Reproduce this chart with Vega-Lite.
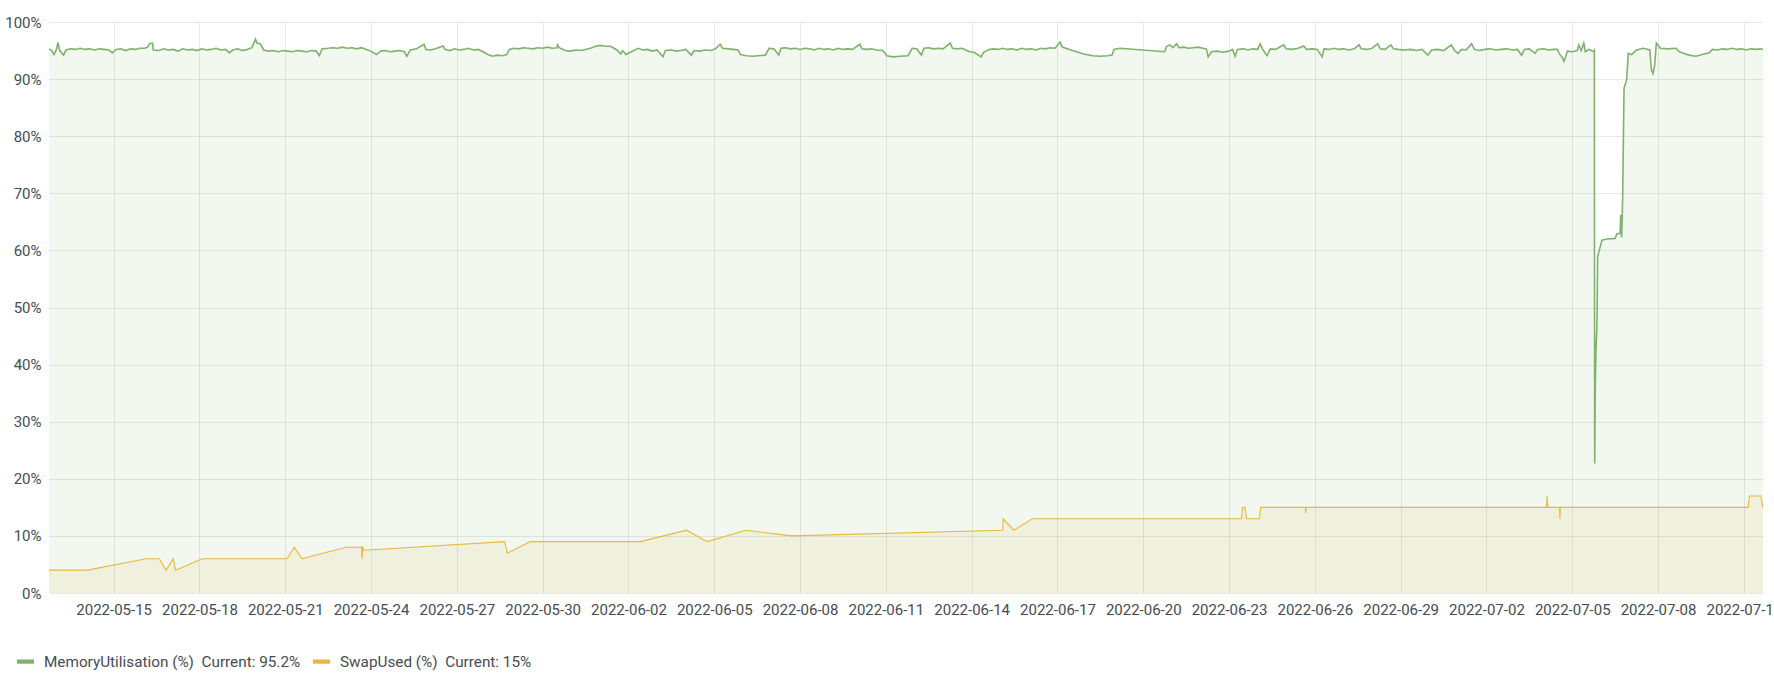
{
"$schema": "https://vega.github.io/schema/vega-lite/v6.json",
"width": 1714,
"height": 571,
"autosize": {"type": "none"},
"padding": {"left": 49, "top": 22, "right": 11, "bottom": 87},
"background": "white",
"config": {"view": {"stroke": null}, "font": "Roboto"},
"data": {"values": [
{"t":"2022-05-12T17:45Z","s":"swap","v":4},
{"t":"2022-05-14T02:00Z","s":"swap","v":4},
{"t":"2022-05-16T03:20Z","s":"swap","v":6},
{"t":"2022-05-16T14:10Z","s":"swap","v":6},
{"t":"2022-05-16T20:00Z","s":"swap","v":4},
{"t":"2022-05-17T02:00Z","s":"swap","v":6},
{"t":"2022-05-17T04:00Z","s":"swap","v":4},
{"t":"2022-05-18T02:20Z","s":"swap","v":6},
{"t":"2022-05-21T01:30Z","s":"swap","v":6},
{"t":"2022-05-21T07:30Z","s":"swap","v":8},
{"t":"2022-05-21T14:10Z","s":"swap","v":6},
{"t":"2022-05-23T03:00Z","s":"swap","v":8},
{"t":"2022-05-23T16:00Z","s":"swap","v":8},
{"t":"2022-05-23T16:30Z","s":"swap","v":6},
{"t":"2022-05-23T17:00Z","s":"swap","v":8},
{"t":"2022-05-23T18:30Z","s":"swap","v":7.5},
{"t":"2022-05-28T16:00Z","s":"swap","v":9},
{"t":"2022-05-28T18:30Z","s":"swap","v":7},
{"t":"2022-05-29T13:30Z","s":"swap","v":9},
{"t":"2022-06-02T10:00Z","s":"swap","v":9},
{"t":"2022-06-04T00:45Z","s":"swap","v":11},
{"t":"2022-06-04T18:00Z","s":"swap","v":9},
{"t":"2022-06-06T02:40Z","s":"swap","v":11},
{"t":"2022-06-07T16:50Z","s":"swap","v":10},
{"t":"2022-06-15T02:00Z","s":"swap","v":11},
{"t":"2022-06-15T02:30Z","s":"swap","v":13},
{"t":"2022-06-15T11:20Z","s":"swap","v":11},
{"t":"2022-06-16T03:00Z","s":"swap","v":13},
{"t":"2022-06-23T10:30Z","s":"swap","v":13},
{"t":"2022-06-23T11:10Z","s":"swap","v":15},
{"t":"2022-06-23T13:20Z","s":"swap","v":15},
{"t":"2022-06-23T14:40Z","s":"swap","v":13},
{"t":"2022-06-24T01:30Z","s":"swap","v":13},
{"t":"2022-06-24T02:30Z","s":"swap","v":15},
{"t":"2022-06-25T16:00Z","s":"swap","v":15},
{"t":"2022-06-25T16:20Z","s":"swap","v":14},
{"t":"2022-06-25T16:40Z","s":"swap","v":15},
{"t":"2022-07-04T02:30Z","s":"swap","v":15},
{"t":"2022-07-04T02:50Z","s":"swap","v":17},
{"t":"2022-07-04T03:30Z","s":"swap","v":15},
{"t":"2022-07-04T13:20Z","s":"swap","v":15},
{"t":"2022-07-04T13:40Z","s":"swap","v":13},
{"t":"2022-07-04T14:00Z","s":"swap","v":15},
{"t":"2022-07-11T03:40Z","s":"swap","v":15},
{"t":"2022-07-11T04:40Z","s":"swap","v":17},
{"t":"2022-07-11T14:10Z","s":"swap","v":17},
{"t":"2022-07-11T16:05Z","s":"swap","v":15},
{"t":"2022-05-12T17:45Z","s":"mem","v":95.3},
{"t":"2022-05-12T20:00Z","s":"mem","v":95.0},
{"t":"2022-05-12T22:00Z","s":"mem","v":94.3},
{"t":"2022-05-13T00:00Z","s":"mem","v":95.2},
{"t":"2022-05-13T01:10Z","s":"mem","v":96.4},
{"t":"2022-05-13T02:45Z","s":"mem","v":95.0},
{"t":"2022-05-13T06:00Z","s":"mem","v":94.2},
{"t":"2022-05-13T08:00Z","s":"mem","v":95.1},
{"t":"2022-05-13T12:00Z","s":"mem","v":95.3},
{"t":"2022-05-13T16:00Z","s":"mem","v":95.2},
{"t":"2022-05-13T20:00Z","s":"mem","v":95.4},
{"t":"2022-05-14T00:00Z","s":"mem","v":95.2},
{"t":"2022-05-14T04:00Z","s":"mem","v":95.3},
{"t":"2022-05-14T08:00Z","s":"mem","v":95.1},
{"t":"2022-05-14T12:00Z","s":"mem","v":95.3},
{"t":"2022-05-14T16:00Z","s":"mem","v":95.2},
{"t":"2022-05-14T20:00Z","s":"mem","v":95.1},
{"t":"2022-05-14T22:50Z","s":"mem","v":94.6},
{"t":"2022-05-15T02:00Z","s":"mem","v":95.2},
{"t":"2022-05-15T06:00Z","s":"mem","v":95.3},
{"t":"2022-05-15T10:00Z","s":"mem","v":95.0},
{"t":"2022-05-15T14:00Z","s":"mem","v":95.3},
{"t":"2022-05-15T18:00Z","s":"mem","v":95.2},
{"t":"2022-05-15T22:00Z","s":"mem","v":95.4},
{"t":"2022-05-16T02:00Z","s":"mem","v":95.4},
{"t":"2022-05-16T04:30Z","s":"mem","v":95.6},
{"t":"2022-05-16T06:00Z","s":"mem","v":96.2},
{"t":"2022-05-16T08:40Z","s":"mem","v":96.3},
{"t":"2022-05-16T09:20Z","s":"mem","v":95.1},
{"t":"2022-05-16T14:00Z","s":"mem","v":95.0},
{"t":"2022-05-16T18:00Z","s":"mem","v":95.3},
{"t":"2022-05-16T22:00Z","s":"mem","v":95.1},
{"t":"2022-05-17T02:00Z","s":"mem","v":95.2},
{"t":"2022-05-17T06:00Z","s":"mem","v":94.9},
{"t":"2022-05-17T10:00Z","s":"mem","v":95.3},
{"t":"2022-05-17T14:00Z","s":"mem","v":95.1},
{"t":"2022-05-17T18:00Z","s":"mem","v":95.2},
{"t":"2022-05-17T22:00Z","s":"mem","v":95.0},
{"t":"2022-05-18T02:00Z","s":"mem","v":95.3},
{"t":"2022-05-18T06:00Z","s":"mem","v":95.1},
{"t":"2022-05-18T10:00Z","s":"mem","v":95.2},
{"t":"2022-05-18T14:00Z","s":"mem","v":95.4},
{"t":"2022-05-18T18:00Z","s":"mem","v":95.1},
{"t":"2022-05-18T22:00Z","s":"mem","v":95.2},
{"t":"2022-05-19T01:10Z","s":"mem","v":94.6},
{"t":"2022-05-19T04:00Z","s":"mem","v":95.1},
{"t":"2022-05-19T08:00Z","s":"mem","v":95.3},
{"t":"2022-05-19T12:00Z","s":"mem","v":95.0},
{"t":"2022-05-19T16:00Z","s":"mem","v":95.2},
{"t":"2022-05-19T20:00Z","s":"mem","v":95.5},
{"t":"2022-05-19T23:00Z","s":"mem","v":97.0},
{"t":"2022-05-20T00:15Z","s":"mem","v":96.3},
{"t":"2022-05-20T03:00Z","s":"mem","v":96.2},
{"t":"2022-05-20T06:00Z","s":"mem","v":95.1},
{"t":"2022-05-20T10:00Z","s":"mem","v":94.9},
{"t":"2022-05-20T14:00Z","s":"mem","v":95.0},
{"t":"2022-05-20T18:00Z","s":"mem","v":94.8},
{"t":"2022-05-20T22:00Z","s":"mem","v":95.0},
{"t":"2022-05-21T02:00Z","s":"mem","v":94.9},
{"t":"2022-05-21T06:00Z","s":"mem","v":94.8},
{"t":"2022-05-21T10:00Z","s":"mem","v":95.0},
{"t":"2022-05-21T14:00Z","s":"mem","v":94.9},
{"t":"2022-05-21T18:00Z","s":"mem","v":94.8},
{"t":"2022-05-21T22:00Z","s":"mem","v":95.0},
{"t":"2022-05-22T02:00Z","s":"mem","v":94.9},
{"t":"2022-05-22T04:30Z","s":"mem","v":94.1},
{"t":"2022-05-22T07:00Z","s":"mem","v":95.3},
{"t":"2022-05-22T12:00Z","s":"mem","v":95.4},
{"t":"2022-05-22T16:00Z","s":"mem","v":95.5},
{"t":"2022-05-22T20:00Z","s":"mem","v":95.4},
{"t":"2022-05-23T00:00Z","s":"mem","v":95.6},
{"t":"2022-05-23T04:00Z","s":"mem","v":95.4},
{"t":"2022-05-23T08:00Z","s":"mem","v":95.5},
{"t":"2022-05-23T12:00Z","s":"mem","v":95.3},
{"t":"2022-05-23T16:00Z","s":"mem","v":95.5},
{"t":"2022-05-23T20:00Z","s":"mem","v":95.2},
{"t":"2022-05-24T00:00Z","s":"mem","v":94.9},
{"t":"2022-05-24T04:30Z","s":"mem","v":94.3},
{"t":"2022-05-24T08:00Z","s":"mem","v":94.9},
{"t":"2022-05-24T12:00Z","s":"mem","v":95.0},
{"t":"2022-05-24T16:00Z","s":"mem","v":94.8},
{"t":"2022-05-24T20:00Z","s":"mem","v":94.9},
{"t":"2022-05-25T00:00Z","s":"mem","v":95.0},
{"t":"2022-05-25T04:00Z","s":"mem","v":94.8},
{"t":"2022-05-25T06:00Z","s":"mem","v":94.0},
{"t":"2022-05-25T09:00Z","s":"mem","v":95.1},
{"t":"2022-05-25T14:00Z","s":"mem","v":95.3},
{"t":"2022-05-25T20:30Z","s":"mem","v":96.1},
{"t":"2022-05-25T22:00Z","s":"mem","v":95.2},
{"t":"2022-05-26T02:00Z","s":"mem","v":95.1},
{"t":"2022-05-26T06:00Z","s":"mem","v":95.3},
{"t":"2022-05-26T12:30Z","s":"mem","v":95.8},
{"t":"2022-05-26T14:00Z","s":"mem","v":95.2},
{"t":"2022-05-26T18:00Z","s":"mem","v":95.0},
{"t":"2022-05-26T22:00Z","s":"mem","v":95.3},
{"t":"2022-05-27T02:00Z","s":"mem","v":95.1},
{"t":"2022-05-27T06:00Z","s":"mem","v":95.2},
{"t":"2022-05-27T10:00Z","s":"mem","v":95.4},
{"t":"2022-05-27T14:00Z","s":"mem","v":95.1},
{"t":"2022-05-27T18:00Z","s":"mem","v":95.2},
{"t":"2022-05-27T22:00Z","s":"mem","v":94.8},
{"t":"2022-05-28T02:00Z","s":"mem","v":94.3},
{"t":"2022-05-28T06:00Z","s":"mem","v":94.0},
{"t":"2022-05-28T10:00Z","s":"mem","v":94.2},
{"t":"2022-05-28T14:00Z","s":"mem","v":94.1},
{"t":"2022-05-28T18:00Z","s":"mem","v":94.3},
{"t":"2022-05-28T20:00Z","s":"mem","v":95.2},
{"t":"2022-05-29T00:00Z","s":"mem","v":95.4},
{"t":"2022-05-29T04:00Z","s":"mem","v":95.3},
{"t":"2022-05-29T08:00Z","s":"mem","v":95.5},
{"t":"2022-05-29T12:00Z","s":"mem","v":95.4},
{"t":"2022-05-29T16:00Z","s":"mem","v":95.3},
{"t":"2022-05-29T20:00Z","s":"mem","v":95.5},
{"t":"2022-05-30T00:00Z","s":"mem","v":95.4},
{"t":"2022-05-30T04:00Z","s":"mem","v":95.6},
{"t":"2022-05-30T08:00Z","s":"mem","v":95.4},
{"t":"2022-05-30T12:00Z","s":"mem","v":95.5},
{"t":"2022-05-30T12:30Z","s":"mem","v":96.0},
{"t":"2022-05-30T14:00Z","s":"mem","v":95.5},
{"t":"2022-05-30T19:00Z","s":"mem","v":95.0},
{"t":"2022-05-30T23:00Z","s":"mem","v":94.9},
{"t":"2022-05-31T04:00Z","s":"mem","v":95.1},
{"t":"2022-05-31T08:00Z","s":"mem","v":95.0},
{"t":"2022-05-31T12:00Z","s":"mem","v":95.2},
{"t":"2022-05-31T16:00Z","s":"mem","v":95.4},
{"t":"2022-05-31T20:00Z","s":"mem","v":95.7},
{"t":"2022-06-01T00:00Z","s":"mem","v":95.9},
{"t":"2022-06-01T04:00Z","s":"mem","v":95.8},
{"t":"2022-06-01T09:30Z","s":"mem","v":95.7},
{"t":"2022-06-01T14:20Z","s":"mem","v":95.1},
{"t":"2022-06-01T17:30Z","s":"mem","v":94.4},
{"t":"2022-06-01T19:10Z","s":"mem","v":95.0},
{"t":"2022-06-01T21:50Z","s":"mem","v":94.3},
{"t":"2022-06-02T08:10Z","s":"mem","v":95.4},
{"t":"2022-06-02T12:00Z","s":"mem","v":95.1},
{"t":"2022-06-02T16:00Z","s":"mem","v":95.2},
{"t":"2022-06-02T20:00Z","s":"mem","v":94.9},
{"t":"2022-06-03T00:00Z","s":"mem","v":95.1},
{"t":"2022-06-03T05:00Z","s":"mem","v":93.9},
{"t":"2022-06-03T07:00Z","s":"mem","v":95.0},
{"t":"2022-06-03T12:00Z","s":"mem","v":95.1},
{"t":"2022-06-03T16:00Z","s":"mem","v":94.9},
{"t":"2022-06-03T20:00Z","s":"mem","v":95.0},
{"t":"2022-06-04T00:00Z","s":"mem","v":95.2},
{"t":"2022-06-04T04:50Z","s":"mem","v":94.2},
{"t":"2022-06-04T07:00Z","s":"mem","v":95.0},
{"t":"2022-06-04T12:00Z","s":"mem","v":94.9},
{"t":"2022-06-04T16:00Z","s":"mem","v":95.1},
{"t":"2022-06-04T21:00Z","s":"mem","v":95.0},
{"t":"2022-06-05T01:00Z","s":"mem","v":95.3},
{"t":"2022-06-05T05:00Z","s":"mem","v":96.1},
{"t":"2022-06-05T07:00Z","s":"mem","v":95.4},
{"t":"2022-06-05T12:00Z","s":"mem","v":95.3},
{"t":"2022-06-05T16:00Z","s":"mem","v":95.2},
{"t":"2022-06-05T20:00Z","s":"mem","v":95.1},
{"t":"2022-06-05T22:00Z","s":"mem","v":94.3},
{"t":"2022-06-06T03:00Z","s":"mem","v":94.1},
{"t":"2022-06-06T08:00Z","s":"mem","v":94.0},
{"t":"2022-06-06T13:00Z","s":"mem","v":94.1},
{"t":"2022-06-06T18:50Z","s":"mem","v":94.2},
{"t":"2022-06-06T22:00Z","s":"mem","v":95.4},
{"t":"2022-06-07T02:00Z","s":"mem","v":95.3},
{"t":"2022-06-07T06:10Z","s":"mem","v":94.2},
{"t":"2022-06-07T08:00Z","s":"mem","v":95.4},
{"t":"2022-06-07T12:00Z","s":"mem","v":95.5},
{"t":"2022-06-07T16:00Z","s":"mem","v":95.3},
{"t":"2022-06-07T20:00Z","s":"mem","v":95.4},
{"t":"2022-06-08T00:00Z","s":"mem","v":95.2},
{"t":"2022-06-08T04:00Z","s":"mem","v":95.4},
{"t":"2022-06-08T08:00Z","s":"mem","v":95.3},
{"t":"2022-06-08T12:00Z","s":"mem","v":95.1},
{"t":"2022-06-08T16:00Z","s":"mem","v":95.4},
{"t":"2022-06-08T20:00Z","s":"mem","v":95.2},
{"t":"2022-06-09T00:00Z","s":"mem","v":95.3},
{"t":"2022-06-09T04:00Z","s":"mem","v":95.1},
{"t":"2022-06-09T08:00Z","s":"mem","v":95.4},
{"t":"2022-06-09T12:00Z","s":"mem","v":95.2},
{"t":"2022-06-09T16:00Z","s":"mem","v":95.3},
{"t":"2022-06-09T20:00Z","s":"mem","v":95.2},
{"t":"2022-06-10T02:10Z","s":"mem","v":96.1},
{"t":"2022-06-10T04:00Z","s":"mem","v":95.3},
{"t":"2022-06-10T08:00Z","s":"mem","v":95.2},
{"t":"2022-06-10T12:00Z","s":"mem","v":95.3},
{"t":"2022-06-10T16:00Z","s":"mem","v":95.1},
{"t":"2022-06-10T21:30Z","s":"mem","v":95.0},
{"t":"2022-06-11T01:00Z","s":"mem","v":94.1},
{"t":"2022-06-11T06:00Z","s":"mem","v":93.9},
{"t":"2022-06-11T12:00Z","s":"mem","v":94.0},
{"t":"2022-06-11T18:40Z","s":"mem","v":94.1},
{"t":"2022-06-11T22:00Z","s":"mem","v":95.4},
{"t":"2022-06-12T02:00Z","s":"mem","v":95.3},
{"t":"2022-06-12T05:50Z","s":"mem","v":94.2},
{"t":"2022-06-12T08:00Z","s":"mem","v":95.4},
{"t":"2022-06-12T12:00Z","s":"mem","v":95.5},
{"t":"2022-06-12T16:00Z","s":"mem","v":95.3},
{"t":"2022-06-12T20:00Z","s":"mem","v":95.4},
{"t":"2022-06-13T00:00Z","s":"mem","v":95.3},
{"t":"2022-06-13T06:00Z","s":"mem","v":96.3},
{"t":"2022-06-13T08:00Z","s":"mem","v":95.4},
{"t":"2022-06-13T12:00Z","s":"mem","v":95.3},
{"t":"2022-06-13T16:00Z","s":"mem","v":95.4},
{"t":"2022-06-13T22:20Z","s":"mem","v":94.8},
{"t":"2022-06-14T02:00Z","s":"mem","v":94.7},
{"t":"2022-06-14T08:00Z","s":"mem","v":93.9},
{"t":"2022-06-14T10:00Z","s":"mem","v":94.7},
{"t":"2022-06-14T14:40Z","s":"mem","v":95.2},
{"t":"2022-06-14T18:00Z","s":"mem","v":95.3},
{"t":"2022-06-14T22:00Z","s":"mem","v":95.2},
{"t":"2022-06-15T02:00Z","s":"mem","v":95.4},
{"t":"2022-06-15T06:00Z","s":"mem","v":95.2},
{"t":"2022-06-15T10:00Z","s":"mem","v":95.3},
{"t":"2022-06-15T14:00Z","s":"mem","v":95.1},
{"t":"2022-06-15T18:00Z","s":"mem","v":95.4},
{"t":"2022-06-15T22:00Z","s":"mem","v":95.2},
{"t":"2022-06-16T02:00Z","s":"mem","v":95.3},
{"t":"2022-06-16T06:00Z","s":"mem","v":95.1},
{"t":"2022-06-16T10:00Z","s":"mem","v":95.4},
{"t":"2022-06-16T14:00Z","s":"mem","v":95.3},
{"t":"2022-06-16T18:00Z","s":"mem","v":95.5},
{"t":"2022-06-16T22:00Z","s":"mem","v":95.4},
{"t":"2022-06-17T02:10Z","s":"mem","v":96.5},
{"t":"2022-06-17T04:00Z","s":"mem","v":95.6},
{"t":"2022-06-17T10:00Z","s":"mem","v":95.2},
{"t":"2022-06-17T16:00Z","s":"mem","v":94.8},
{"t":"2022-06-17T22:00Z","s":"mem","v":94.4},
{"t":"2022-06-18T05:40Z","s":"mem","v":94.1},
{"t":"2022-06-18T12:00Z","s":"mem","v":94.0},
{"t":"2022-06-18T18:00Z","s":"mem","v":94.1},
{"t":"2022-06-18T21:50Z","s":"mem","v":94.2},
{"t":"2022-06-18T23:30Z","s":"mem","v":95.2},
{"t":"2022-06-19T04:20Z","s":"mem","v":95.4},
{"t":"2022-06-20T18:00Z","s":"mem","v":94.8},
{"t":"2022-06-20T19:30Z","s":"mem","v":95.7},
{"t":"2022-06-20T22:10Z","s":"mem","v":96.0},
{"t":"2022-06-21T01:00Z","s":"mem","v":95.5},
{"t":"2022-06-21T04:00Z","s":"mem","v":96.2},
{"t":"2022-06-21T06:00Z","s":"mem","v":95.5},
{"t":"2022-06-21T10:00Z","s":"mem","v":95.6},
{"t":"2022-06-21T14:00Z","s":"mem","v":95.4},
{"t":"2022-06-21T18:00Z","s":"mem","v":95.5},
{"t":"2022-06-21T22:00Z","s":"mem","v":95.6},
{"t":"2022-06-22T02:00Z","s":"mem","v":95.4},
{"t":"2022-06-22T05:00Z","s":"mem","v":95.3},
{"t":"2022-06-22T06:30Z","s":"mem","v":93.9},
{"t":"2022-06-22T09:20Z","s":"mem","v":94.8},
{"t":"2022-06-22T14:00Z","s":"mem","v":94.9},
{"t":"2022-06-22T19:00Z","s":"mem","v":94.7},
{"t":"2022-06-23T00:00Z","s":"mem","v":94.9},
{"t":"2022-06-23T03:00Z","s":"mem","v":95.2},
{"t":"2022-06-23T05:00Z","s":"mem","v":94.0},
{"t":"2022-06-23T07:00Z","s":"mem","v":95.2},
{"t":"2022-06-23T12:00Z","s":"mem","v":95.3},
{"t":"2022-06-23T16:00Z","s":"mem","v":95.1},
{"t":"2022-06-23T20:00Z","s":"mem","v":95.3},
{"t":"2022-06-24T00:00Z","s":"mem","v":95.2},
{"t":"2022-06-24T02:10Z","s":"mem","v":96.2},
{"t":"2022-06-24T04:00Z","s":"mem","v":95.3},
{"t":"2022-06-24T07:50Z","s":"mem","v":94.1},
{"t":"2022-06-24T10:40Z","s":"mem","v":95.3},
{"t":"2022-06-24T15:00Z","s":"mem","v":95.2},
{"t":"2022-06-24T21:50Z","s":"mem","v":96.0},
{"t":"2022-06-25T00:00Z","s":"mem","v":95.3},
{"t":"2022-06-25T05:00Z","s":"mem","v":95.2},
{"t":"2022-06-25T10:00Z","s":"mem","v":95.4},
{"t":"2022-06-25T14:40Z","s":"mem","v":95.8},
{"t":"2022-06-25T17:00Z","s":"mem","v":95.2},
{"t":"2022-06-25T22:00Z","s":"mem","v":95.3},
{"t":"2022-06-26T02:00Z","s":"mem","v":95.2},
{"t":"2022-06-26T06:10Z","s":"mem","v":93.9},
{"t":"2022-06-26T07:40Z","s":"mem","v":95.3},
{"t":"2022-06-26T12:00Z","s":"mem","v":95.2},
{"t":"2022-06-26T16:00Z","s":"mem","v":95.4},
{"t":"2022-06-26T20:00Z","s":"mem","v":95.2},
{"t":"2022-06-27T00:00Z","s":"mem","v":95.3},
{"t":"2022-06-27T05:00Z","s":"mem","v":95.1},
{"t":"2022-06-27T09:00Z","s":"mem","v":95.3},
{"t":"2022-06-27T13:10Z","s":"mem","v":96.0},
{"t":"2022-06-27T15:00Z","s":"mem","v":95.3},
{"t":"2022-06-27T20:00Z","s":"mem","v":95.2},
{"t":"2022-06-28T00:00Z","s":"mem","v":95.4},
{"t":"2022-06-28T04:40Z","s":"mem","v":96.2},
{"t":"2022-06-28T07:00Z","s":"mem","v":95.3},
{"t":"2022-06-28T11:00Z","s":"mem","v":95.2},
{"t":"2022-06-28T15:50Z","s":"mem","v":96.0},
{"t":"2022-06-28T18:00Z","s":"mem","v":95.3},
{"t":"2022-06-28T22:00Z","s":"mem","v":95.2},
{"t":"2022-06-29T03:00Z","s":"mem","v":95.1},
{"t":"2022-06-29T08:00Z","s":"mem","v":95.2},
{"t":"2022-06-29T13:00Z","s":"mem","v":95.0},
{"t":"2022-06-29T18:00Z","s":"mem","v":95.2},
{"t":"2022-06-29T22:50Z","s":"mem","v":94.2},
{"t":"2022-06-30T02:00Z","s":"mem","v":95.1},
{"t":"2022-06-30T07:00Z","s":"mem","v":95.2},
{"t":"2022-06-30T12:00Z","s":"mem","v":95.0},
{"t":"2022-06-30T18:30Z","s":"mem","v":96.0},
{"t":"2022-06-30T21:00Z","s":"mem","v":95.1},
{"t":"2022-07-01T00:10Z","s":"mem","v":94.5},
{"t":"2022-07-01T03:00Z","s":"mem","v":95.2},
{"t":"2022-07-01T07:00Z","s":"mem","v":95.1},
{"t":"2022-07-01T11:30Z","s":"mem","v":96.2},
{"t":"2022-07-01T14:00Z","s":"mem","v":95.2},
{"t":"2022-07-01T18:00Z","s":"mem","v":95.0},
{"t":"2022-07-01T22:40Z","s":"mem","v":95.2},
{"t":"2022-07-02T03:00Z","s":"mem","v":95.3},
{"t":"2022-07-02T08:00Z","s":"mem","v":95.1},
{"t":"2022-07-02T12:30Z","s":"mem","v":95.2},
{"t":"2022-07-02T17:00Z","s":"mem","v":95.3},
{"t":"2022-07-02T22:00Z","s":"mem","v":95.1},
{"t":"2022-07-03T02:00Z","s":"mem","v":95.2},
{"t":"2022-07-03T05:30Z","s":"mem","v":94.2},
{"t":"2022-07-03T08:00Z","s":"mem","v":95.2},
{"t":"2022-07-03T12:00Z","s":"mem","v":95.3},
{"t":"2022-07-03T16:50Z","s":"mem","v":94.5},
{"t":"2022-07-03T19:00Z","s":"mem","v":95.2},
{"t":"2022-07-04T00:00Z","s":"mem","v":95.3},
{"t":"2022-07-04T04:00Z","s":"mem","v":95.1},
{"t":"2022-07-04T08:00Z","s":"mem","v":95.2},
{"t":"2022-07-04T11:30Z","s":"mem","v":95.2},
{"t":"2022-07-04T13:00Z","s":"mem","v":94.5},
{"t":"2022-07-04T15:40Z","s":"mem","v":93.8},
{"t":"2022-07-04T17:00Z","s":"mem","v":93.1},
{"t":"2022-07-04T18:30Z","s":"mem","v":93.9},
{"t":"2022-07-04T19:50Z","s":"mem","v":94.9},
{"t":"2022-07-05T00:00Z","s":"mem","v":94.8},
{"t":"2022-07-05T04:10Z","s":"mem","v":95.0},
{"t":"2022-07-05T05:30Z","s":"mem","v":96.0},
{"t":"2022-07-05T07:30Z","s":"mem","v":95.0},
{"t":"2022-07-05T09:40Z","s":"mem","v":96.3},
{"t":"2022-07-05T11:00Z","s":"mem","v":94.8},
{"t":"2022-07-05T14:00Z","s":"mem","v":95.2},
{"t":"2022-07-05T18:00Z","s":"mem","v":94.8},
{"t":"2022-07-05T18:33Z","s":"mem","v":95.0},
{"t":"2022-07-05T18:50Z","s":"mem","v":22.7},
{"t":"2022-07-05T19:22Z","s":"mem","v":36.8},
{"t":"2022-07-05T19:55Z","s":"mem","v":42.5},
{"t":"2022-07-05T20:46Z","s":"mem","v":47.3},
{"t":"2022-07-05T21:19Z","s":"mem","v":58.9},
{"t":"2022-07-06T00:55Z","s":"mem","v":61.8},
{"t":"2022-07-06T05:04Z","s":"mem","v":62.0},
{"t":"2022-07-06T12:00Z","s":"mem","v":62.1},
{"t":"2022-07-06T13:22Z","s":"mem","v":62.9},
{"t":"2022-07-06T16:08Z","s":"mem","v":63.0},
{"t":"2022-07-06T16:42Z","s":"mem","v":66.2},
{"t":"2022-07-06T17:31Z","s":"mem","v":62.3},
{"t":"2022-07-06T18:22Z","s":"mem","v":70.0},
{"t":"2022-07-06T19:28Z","s":"mem","v":88.4},
{"t":"2022-07-06T21:40Z","s":"mem","v":89.9},
{"t":"2022-07-06T23:03Z","s":"mem","v":94.5},
{"t":"2022-07-07T01:49Z","s":"mem","v":94.3},
{"t":"2022-07-07T05:59Z","s":"mem","v":95.1},
{"t":"2022-07-07T11:31Z","s":"mem","v":95.4},
{"t":"2022-07-07T17:04Z","s":"mem","v":95.1},
{"t":"2022-07-07T18:26Z","s":"mem","v":91.6},
{"t":"2022-07-07T19:49Z","s":"mem","v":91.0},
{"t":"2022-07-07T21:13Z","s":"mem","v":92.5},
{"t":"2022-07-07T22:35Z","s":"mem","v":96.3},
{"t":"2022-07-08T02:00Z","s":"mem","v":95.4},
{"t":"2022-07-08T08:00Z","s":"mem","v":95.3},
{"t":"2022-07-08T15:11Z","s":"mem","v":95.4},
{"t":"2022-07-08T17:58Z","s":"mem","v":94.8},
{"t":"2022-07-08T22:00Z","s":"mem","v":94.5},
{"t":"2022-07-09T02:00Z","s":"mem","v":94.2},
{"t":"2022-07-09T07:48Z","s":"mem","v":94.0},
{"t":"2022-07-09T13:00Z","s":"mem","v":94.3},
{"t":"2022-07-09T18:53Z","s":"mem","v":94.6},
{"t":"2022-07-09T21:39Z","s":"mem","v":95.2},
{"t":"2022-07-10T02:00Z","s":"mem","v":95.1},
{"t":"2022-07-10T06:00Z","s":"mem","v":95.3},
{"t":"2022-07-10T10:00Z","s":"mem","v":95.2},
{"t":"2022-07-10T14:00Z","s":"mem","v":95.4},
{"t":"2022-07-10T18:00Z","s":"mem","v":95.2},
{"t":"2022-07-10T22:00Z","s":"mem","v":95.3},
{"t":"2022-07-11T02:00Z","s":"mem","v":95.1},
{"t":"2022-07-11T06:00Z","s":"mem","v":95.3},
{"t":"2022-07-11T10:00Z","s":"mem","v":95.2},
{"t":"2022-07-11T14:00Z","s":"mem","v":95.3},
{"t":"2022-07-11T16:05Z","s":"mem","v":95.2}
]},
"encoding": {
  "x": {"field": "t", "type": "temporal",
    "scale": {"type": "utc", "domain": [
      {"year": 2022, "month": "May", "date": 12, "hours": 17, "minutes": 45, "utc": true},
      {"year": 2022, "month": "July", "date": 11, "hours": 16, "minutes": 5, "utc": true}]},
    "axis": {"title": null,
      "labelExpr": "utcFormat(datum.value, '%Y-%m-%d')",
      "values": [
        {"year": 2022, "month": "May", "date": 15, "utc": true},
        {"year": 2022, "month": "May", "date": 18, "utc": true},
        {"year": 2022, "month": "May", "date": 21, "utc": true},
        {"year": 2022, "month": "May", "date": 24, "utc": true},
        {"year": 2022, "month": "May", "date": 27, "utc": true},
        {"year": 2022, "month": "May", "date": 30, "utc": true},
        {"year": 2022, "month": "June", "date": 2, "utc": true},
        {"year": 2022, "month": "June", "date": 5, "utc": true},
        {"year": 2022, "month": "June", "date": 8, "utc": true},
        {"year": 2022, "month": "June", "date": 11, "utc": true},
        {"year": 2022, "month": "June", "date": 14, "utc": true},
        {"year": 2022, "month": "June", "date": 17, "utc": true},
        {"year": 2022, "month": "June", "date": 20, "utc": true},
        {"year": 2022, "month": "June", "date": 23, "utc": true},
        {"year": 2022, "month": "June", "date": 26, "utc": true},
        {"year": 2022, "month": "June", "date": 29, "utc": true},
        {"year": 2022, "month": "July", "date": 2, "utc": true},
        {"year": 2022, "month": "July", "date": 5, "utc": true},
        {"year": 2022, "month": "July", "date": 8, "utc": true},
        {"year": 2022, "month": "July", "date": 11, "utc": true}],
      "labelOverlap": false, "labelBound": false, "labelFlush": false,
      "ticks": false, "domain": false, "labelPadding": 9,
      "labelFont": "Roboto", "labelFontSize": 15, "labelColor": "#464c54",
      "gridColor": "#000000", "gridOpacity": 0.09}},
  "y": {"field": "v", "type": "quantitative", "stack": null,
    "scale": {"domain": [0, 100], "nice": false},
    "axis": {"title": null, "values": [0,10,20,30,40,50,60,70,80,90,100],
      "labelExpr": "datum.value + '%'", "ticks": false, "domain": false,
      "labelPadding": 8, "labelFont": "Roboto", "labelFontSize": 15, "labelColor": "#464c54",
      "gridColor": "#000000", "gridOpacity": 0.09}},
  "color": {"field": "s", "type": "nominal",
    "scale": {"domain": ["mem", "swap"], "range": ["#7eb26d", "#eab839"]},
    "legend": {"title": null, "orient": "none", "legendX": -32, "legendY": 631,
      "direction": "horizontal", "columnPadding": 12, "labelOffset": 10,
      "symbolType": "M-1,-0.25H1V0.25H-1Z", "symbolSize": 289,
      "labelFont": "Roboto", "labelFontSize": 15.3, "labelColor": "#464c54",
      "labelLimit": 400,
      "labelExpr": "datum.value == 'mem' ? 'MemoryUtilisation (%)\u00a0\u00a0Current: 95.2%' : 'SwapUsed (%)\u00a0\u00a0Current: 15%'",
      "encode": {"symbols": {"update": {"fill": {"scale": "color", "field": "value"}, "fillOpacity": {"value": 1}, "strokeWidth": {"value": 0}}}}}}
},
"layer": [
  {"mark": {"type": "area", "fillOpacity": 0.1, "line": false}},
  {"mark": {"type": "line"},
   "encoding": {"strokeWidth": {"condition": {"test": "datum.s == 'mem'", "value": 1.6}, "value": 1.1}}}
]
}
